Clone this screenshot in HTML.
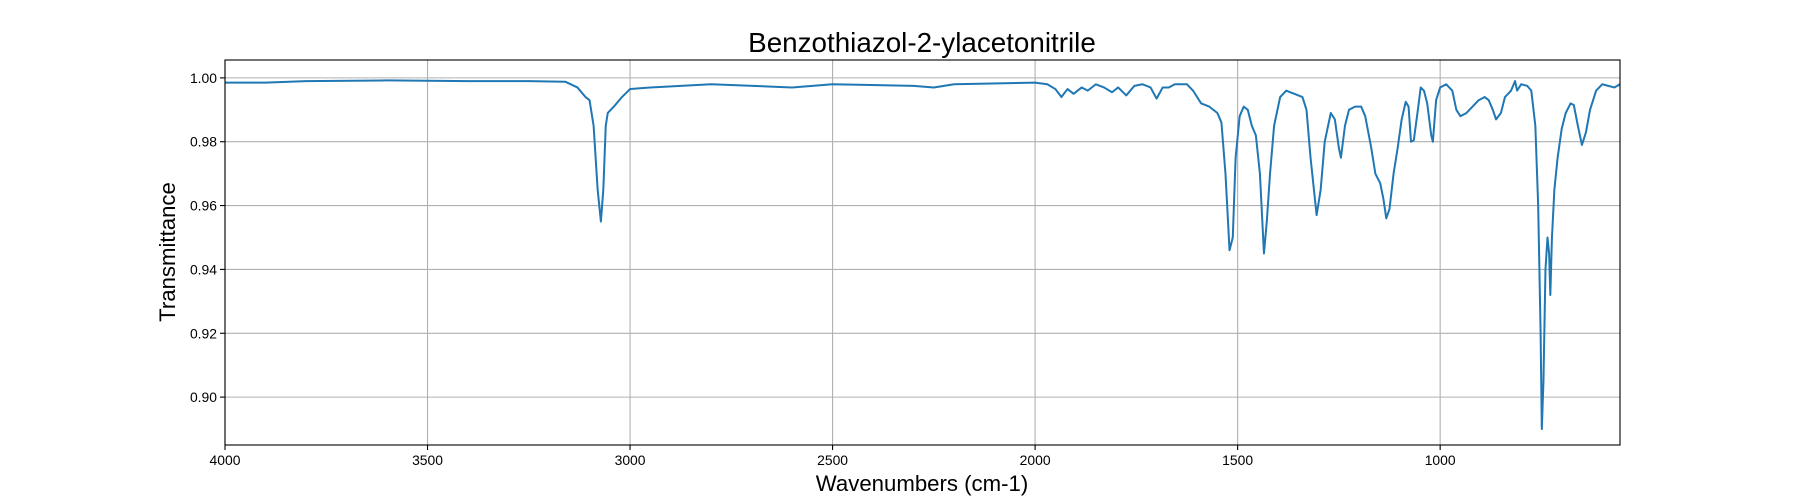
<!DOCTYPE html>
<html><head><meta charset="utf-8"><style>
html,body{margin:0;padding:0;background:#fff;}
svg{display:block;font-family:"Liberation Sans","DejaVu Sans",sans-serif;}
</style></head><body>
<svg id="chart" width="1800" height="500" viewBox="0 0 1800 500" xmlns="http://www.w3.org/2000/svg">
<rect x="0" y="0" width="1800" height="500" fill="#fff"/>
<g id="grid"></g>
<g id="series"></g>
<rect x="225" y="60" width="1395" height="385" fill="none" stroke="#000" stroke-width="1.1"/>
<g id="xticks"></g>
<g id="yticks"></g>
<text x="922" y="52" font-size="27.8" text-anchor="middle">Benzothiazol-2-ylacetonitrile</text>
<text x="922" y="491" font-size="22.2" text-anchor="middle">Wavenumbers (cm-1)</text>
<text x="0" y="0" font-size="22.2" text-anchor="middle" transform="translate(175,252) rotate(-90)">Transmittance</text>
</svg>
<script>
const wavenumbers = [4000,3900,3800,3600,3400,3250,3160,3130,3110,3100,3090,3080,3072,3066,3060,3055,3040,3020,3000,2950,2800,2600,2500,2300,2250,2200,2000,1970,1950,1935,1920,1905,1885,1870,1850,1830,1810,1795,1775,1755,1735,1715,1700,1685,1670,1655,1625,1610,1590,1570,1550,1540,1530,1520,1512,1505,1495,1485,1475,1465,1455,1445,1435,1428,1420,1410,1395,1380,1360,1340,1330,1320,1305,1295,1285,1270,1260,1250,1245,1235,1225,1210,1195,1185,1170,1160,1148,1140,1133,1125,1115,1105,1095,1085,1078,1072,1065,1055,1048,1040,1032,1022,1018,1010,1000,985,970,960,950,935,920,905,890,880,870,862,850,840,825,815,810,800,785,775,765,758,752,749,745,740,735,731,728,724,718,710,700,690,678,670,660,650,640,630,615,600,585,570,556];
const transmittance = [0.9985,0.9985,0.999,0.9992,0.999,0.999,0.9988,0.997,0.994,0.993,0.985,0.965,0.955,0.965,0.985,0.989,0.991,0.994,0.9965,0.997,0.998,0.997,0.998,0.9975,0.997,0.998,0.9985,0.998,0.9965,0.994,0.9965,0.995,0.997,0.996,0.998,0.997,0.9955,0.997,0.9945,0.9975,0.998,0.997,0.9935,0.997,0.997,0.998,0.998,0.996,0.992,0.991,0.989,0.986,0.97,0.946,0.95,0.975,0.988,0.991,0.990,0.985,0.982,0.97,0.945,0.955,0.97,0.985,0.994,0.996,0.995,0.994,0.99,0.975,0.957,0.965,0.98,0.989,0.987,0.978,0.975,0.985,0.990,0.991,0.991,0.988,0.978,0.970,0.967,0.962,0.956,0.959,0.970,0.978,0.987,0.9925,0.991,0.980,0.9805,0.990,0.997,0.996,0.992,0.982,0.980,0.993,0.997,0.998,0.996,0.990,0.988,0.989,0.991,0.993,0.994,0.993,0.990,0.987,0.989,0.994,0.996,0.999,0.996,0.998,0.9975,0.996,0.985,0.960,0.920,0.890,0.905,0.940,0.950,0.945,0.932,0.950,0.965,0.975,0.984,0.989,0.992,0.9915,0.985,0.979,0.983,0.990,0.996,0.998,0.9975,0.997,0.998];
const xTickValues = [4000,3500,3000,2500,2000,1500,1000];
const yTickValues = [0.90,0.92,0.94,0.96,0.98,1.00];

const L=225,R=1620,T=60,B=445;
const xMin=4000,xMax=556,yMin=0.885,yMax=1.0056;
const xs=v=>L+(xMin-v)/(xMin-xMax)*(R-L);
const ys=v=>B-(v-yMin)/(yMax-yMin)*(B-T);
const NS="http://www.w3.org/2000/svg";
function mk(tag,attrs,parent){const e=document.createElementNS(NS,tag);for(const k in attrs)e.setAttribute(k,attrs[k]);parent.appendChild(e);return e;}
const grid=document.getElementById('grid'),xt=document.getElementById('xticks'),yt=document.getElementById('yticks');
xTickValues.forEach(v=>{
  const x=xs(v);
  const g=mk('line',{x1:x,x2:x,y1:T,y2:B,stroke:'#b0b0b0','stroke-width':1.1},grid);
  
  
  const t=mk('line',{x1:x,x2:x,y1:B,y2:B+5,stroke:'#000','stroke-width':1.1},xt);
  
  
  const l=mk('text',{x:x,y:B+20,'font-size':13.9,'text-anchor':'middle'},xt);
  l.textContent=String(v);
  
  
});
yTickValues.forEach(v=>{
  const y=ys(v);
  const g=mk('line',{x1:L,x2:R,y1:y,y2:y,stroke:'#b0b0b0','stroke-width':1.1},grid);
  
  
  const t=mk('line',{x1:L-5,x2:L,y1:y,y2:y,stroke:'#000','stroke-width':1.1},yt);
  
  
  const l=mk('text',{x:L-8,y:y+5,'font-size':13.9,'text-anchor':'end'},yt);
  l.textContent=v.toFixed(2);
  
  
});
const d=wavenumbers.map((w,i)=>(i?'L':'M')+xs(w).toFixed(2)+','+ys(transmittance[i]).toFixed(2)).join(' ');
const p=mk('path',{d:d,fill:'none',stroke:'#1f77b4','stroke-width':2,'stroke-linejoin':'round'},document.getElementById('series'));


</script>
</body></html>
